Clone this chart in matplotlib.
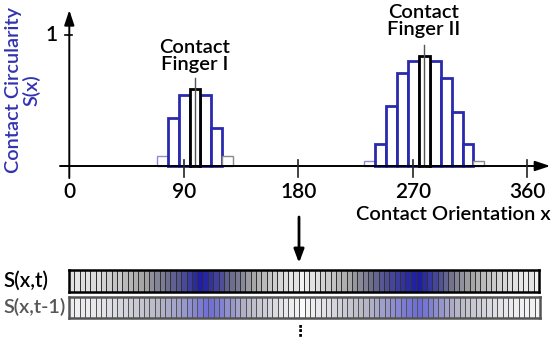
import numpy as np
import matplotlib
matplotlib.use("Agg")
import matplotlib.pyplot as plt
from matplotlib.colors import LinearSegmentedColormap

plt.rcParams['font.family'] = ['Lato', 'DejaVu Sans']
plt.rcParams['font.weight'] = 'semibold'

# histogram of finger I / finger II contacts (degrees, circularity)
left_x = [73, 81.6, 90.2, 98.8, 107.4, 116, 124.6]
left_h = [0.08, 0.37, 0.54, 0.585, 0.54, 0.29, 0.08]
right_x = [236, 244.6, 253.2, 261.8, 270.4, 279, 287.6, 296.2, 304.8, 313.4, 322]
right_h = [0.04, 0.166, 0.46, 0.71, 0.80, 0.84, 0.80, 0.67, 0.41, 0.166, 0.04]
bin_w = 8.6
xticks = [90, 180, 270, 360]

# heat strips S(x,t) and S(x,t-1), 88 cells each
s_t = [0.10, 0.08, 0.12, 0.10, 0.14, 0.12, 0.18, 0.20, 0.25, 0.22, 0.30, 0.32,
       0.36, 0.40, 0.42, 0.48, 0.52, 0.55, 0.60, 0.66, 0.70, 0.76, 0.82, 0.90,
       0.95, 0.92, 0.86, 0.80, 0.74, 0.66, 0.60, 0.56, 0.50, 0.44, 0.40, 0.34,
       0.30, 0.24, 0.20, 0.16, 0.12, 0.08, 0.10, 0.02, 0.06, 0.10, 0.12, 0.18,
       0.22, 0.26, 0.32, 0.36, 0.40, 0.46, 0.50, 0.54, 0.60, 0.64, 0.70, 0.74,
       0.78, 0.82, 0.86, 0.90, 0.94, 0.96, 0.90, 0.84, 0.78, 0.72, 0.64, 0.58,
       0.52, 0.48, 0.44, 0.40, 0.34, 0.30, 0.26, 0.22, 0.18, 0.16, 0.12, 0.10,
       0.08, 0.06, 0.10, 0.03]
s_t1 = [0.10, 0.08, 0.12, 0.10, 0.14, 0.16, 0.18, 0.22, 0.24, 0.28, 0.30, 0.34,
        0.36, 0.40, 0.44, 0.46, 0.50, 0.54, 0.58, 0.62, 0.66, 0.70, 0.76, 0.82,
        0.88, 0.94, 0.96, 0.90, 0.84, 0.76, 0.70, 0.62, 0.56, 0.50, 0.44, 0.38,
        0.34, 0.28, 0.24, 0.18, 0.14, 0.10, 0.08, 0.00, 0.06, 0.10, 0.14, 0.18,
        0.22, 0.28, 0.32, 0.36, 0.40, 0.44, 0.48, 0.52, 0.56, 0.60, 0.66, 0.70,
        0.76, 0.82, 0.88, 0.92, 0.96, 0.98, 0.92, 0.86, 0.78, 0.72, 0.64, 0.58,
        0.52, 0.46, 0.42, 0.38, 0.34, 0.30, 0.26, 0.22, 0.18, 0.14, 0.12, 0.10,
        0.08, 0.06, 0.08, 0.04]

W, H = 558, 342
BLUE = '#2a2aae'
fig = plt.figure(figsize=(W / 100, H / 100), dpi=100)

# ---- histogram axes (data coords: degrees x circularity)
ax = fig.add_axes([69.3 / W, (H - 166) / H, 458 / W, 131 / H])
ax.set_xlim(0, 360)
ax.set_ylim(0, 1)
ax.axis('off')

def bar_group(xs, hs):
    n = len(xs)
    mid = n // 2
    for i, (x, h) in enumerate(zip(xs, hs)):
        if i == 0:
            ec, lw = '#8c8cd8', 1.0
        elif i == n - 1:
            ec, lw = '#8a8a8a', 1.0
        elif i == mid:
            continue
        else:
            ec, lw = BLUE, 2.0
        ax.bar(x, h, width=bin_w, color='white', edgecolor=ec, linewidth=lw,
               clip_on=False, zorder=3)
    ax.bar(xs[mid], hs[mid], width=bin_w, color='white', edgecolor='black',
           linewidth=2.0, clip_on=False, zorder=4)
    ax.plot([xs[mid], xs[mid]], [0, hs[mid] + 0.085], color='#555555', lw=1.0,
            clip_on=False, zorder=5)

bar_group(left_x, left_h)
bar_group(right_x, right_h)

# axis lines with arrows
ax.annotate('', xy=(378, 0), xytext=(-7.3, 0), annotation_clip=False,
            arrowprops=dict(arrowstyle='-|>,head_length=0.9,head_width=0.3',
                            color='black', lw=1.4, shrinkA=0, shrinkB=0), zorder=6)
ax.annotate('', xy=(0, 1.19), xytext=(0, -0.092), annotation_clip=False,
            arrowprops=dict(arrowstyle='-|>,head_length=0.9,head_width=0.3',
                            color='black', lw=1.4, shrinkA=0, shrinkB=0), zorder=6)
for t in xticks:
    ax.plot([t, t], [0.046, -0.084], color='#222222', lw=1.2, clip_on=False, zorder=6)
ax.plot([-3.4, 2.1], [1, 1], color='black', lw=1.2, clip_on=False)

for t in [0] + xticks:
    ax.text(t, -0.2, str(t), ha='center', va='center', fontsize=15)
ax.text(-14, 1.0, '1', ha='center', va='center', fontsize=15)

# ---- overlay in pixel coords
ov = fig.add_axes([0, 0, 1, 1])
ov.set_xlim(0, W)
ov.set_ylim(H, 0)
ov.axis('off')

ov.text(23, 90, 'Contact Circularity\nS(x)', rotation=90, ha='center', va='center',
        color='#3232b2', fontsize=14.3, linespacing=1.0)
ov.text(195, 56, 'Contact\nFinger I', ha='center', va='center', fontsize=14.5,
        linespacing=1.0)
ov.text(424, 21, 'Contact\nFinger II', ha='center', va='center', fontsize=14.5,
        linespacing=1.0)
ov.text(453, 215, 'Contact Orientation x', ha='center', va='center', fontsize=14.5)

ov.annotate('', xy=(299, 263), xytext=(299, 217),
            arrowprops=dict(arrowstyle='-|>,head_length=0.8,head_width=0.3',
                            color='black', lw=2.0, shrinkA=0, shrinkB=0))
ov.text(300, 331, '\u22ee', ha='center', va='center', fontsize=11,
        family='DejaVu Sans', fontweight='bold')

ov.text(3, 281, 'S(x,t)', ha='left', va='center', fontsize=14.8)
ov.text(3, 307, 'S(x,t-1)', ha='left', va='center', fontsize=14.2, color='#555555')

# ---- heat strips
cm1 = LinearSegmentedColormap.from_list('s1', [(0, '#f6f6f6'), (0.4, '#a6a6a6'),
                                               (0.6, '#6e6e8e'), (0.8, '#40409e'),
                                               (1.0, '#1414aa')])
cm2 = LinearSegmentedColormap.from_list('s2', [(0, '#fafafa'), (0.5, '#b8b8c6'),
                                               (1.0, '#6a6ad8')])

def strip(rect, vals, cmap, sep, border):
    a = fig.add_axes(rect)
    a.pcolormesh(np.arange(len(vals) + 1), [0, 1], np.array([vals]), cmap=cmap,
                 vmin=0, vmax=1, edgecolors=sep, linewidth=0.7)
    a.set_xlim(0, len(vals))
    a.set_ylim(0, 1)
    a.set_xticks([])
    a.set_yticks([])
    for s in a.spines.values():
        s.set_color(border)
        s.set_linewidth(1.8)

strip([69 / W, (H - 292.3) / H, 470 / W, 22.3 / H], s_t, cm1, '#333333', 'black')
strip([69 / W, (H - 318.3) / H, 471 / W, 21.6 / H], s_t1, cm2, '#555555', '#555555')

fig.savefig('out.png', dpi=100)
